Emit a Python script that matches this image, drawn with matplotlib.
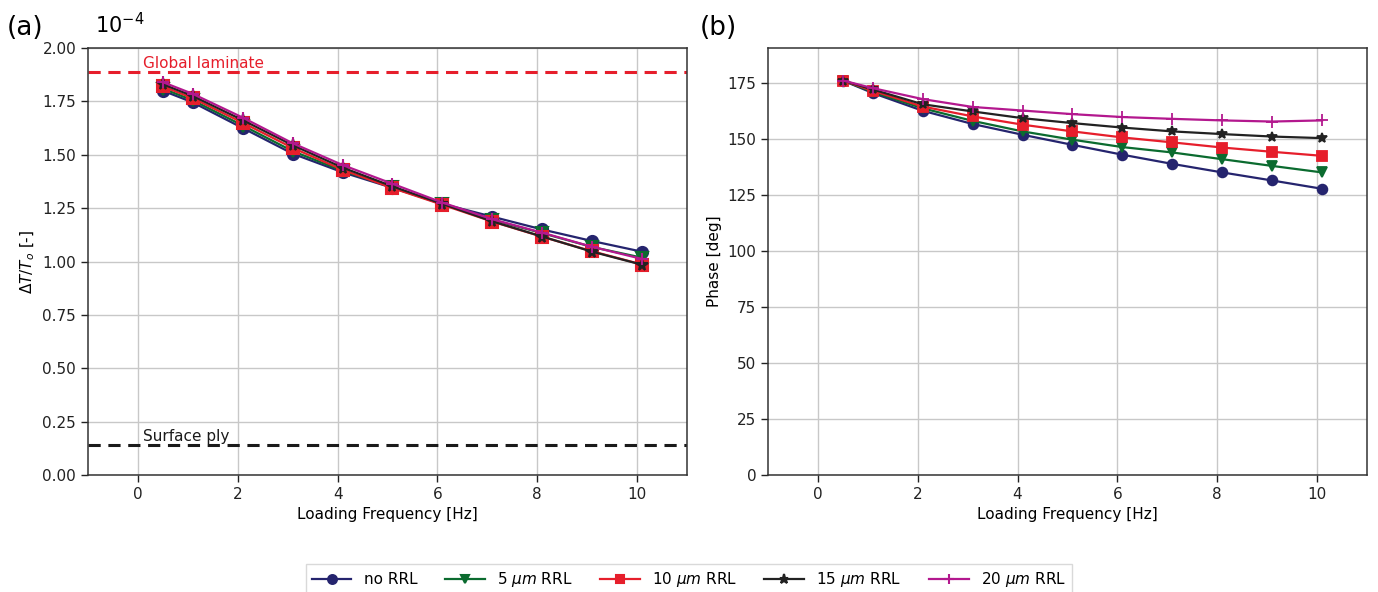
import matplotlib
matplotlib.use("Agg")
import matplotlib.pyplot as plt
import numpy as np

# loading frequency [Hz]
freq = [0.5, 1.1, 2.1, 3.1, 4.1, 5.1, 6.1, 7.1, 8.1, 9.1, 10.1]

# (a) dT/To, in units of 1e-4
dt_none = [1.80, 1.745, 1.625, 1.505, 1.418, 1.345, 1.270, 1.210, 1.150, 1.096, 1.046]
dt_5 = [1.81, 1.755, 1.637, 1.517, 1.425, 1.348, 1.268, 1.195, 1.133, 1.068, 1.018]
dt_10 = [1.82, 1.765, 1.650, 1.532, 1.430, 1.344, 1.266, 1.187, 1.116, 1.048, 0.986]
dt_15 = [1.83, 1.775, 1.662, 1.545, 1.440, 1.352, 1.270, 1.188, 1.117, 1.046, 0.985]
dt_20 = [1.84, 1.785, 1.674, 1.554, 1.452, 1.364, 1.276, 1.198, 1.135, 1.069, 1.012]

global_laminate = 1.888
surface_ply = 0.14

# (b) phase [deg]
ph_none = [176.0, 170.4, 162.5, 156.6, 151.8, 147.3, 142.9, 138.8, 135.0, 131.4, 127.7]
ph_5 = [176.0, 170.9, 163.6, 158.0, 153.3, 149.6, 146.3, 143.9, 140.9, 137.9, 135.0]
ph_10 = [176.0, 171.4, 164.4, 160.0, 156.3, 153.3, 150.6, 148.4, 146.1, 144.2, 142.4]
ph_15 = [176.0, 172.0, 165.4, 162.2, 159.2, 157.0, 155.0, 153.3, 152.1, 151.0, 150.3]
ph_20 = [176.0, 172.6, 167.7, 164.2, 162.6, 161.0, 159.7, 158.9, 158.2, 157.7, 158.2]

labels = ["no RRL", r"5 $\mu m$ RRL", r"10 $\mu m$ RRL", r"15 $\mu m$ RRL", r"20 $\mu m$ RRL"]
colors = ["#25246e", "#0b6b2f", "#e61e2b", "#222222", "#b3188e"]
markers = ["o", "v", "s", "*", "+"]

plt.rcParams["font.family"] = "DejaVu Sans"
plt.rcParams["font.size"] = 11

fig = plt.figure(figsize=(13.78, 5.92), dpi=100)
ax1 = fig.add_axes([0.0639, 0.1976, 0.4346, 0.7213])
ax2 = fig.add_axes([0.5573, 0.1976, 0.4347, 0.7213])

for ax in (ax1, ax2):
    ax.grid(True, color="#c8c8c8", linewidth=1.0)
    ax.set_axisbelow(True)
    for s in ax.spines.values():
        s.set_color("#333333")
        s.set_linewidth(1.1)
    ax.tick_params(direction="out", length=5, width=1, colors="#222222", labelsize=11)
    ax.set_xlim(-1, 11)
    ax.set_xticks([0, 2, 4, 6, 8, 10])
    ax.set_xlabel("Loading Frequency [Hz]", fontsize=11)

dts = [dt_none, dt_5, dt_10, dt_15, dt_20]
phs = [ph_none, ph_5, ph_10, ph_15, ph_20]
handles = []
for i in range(5):
    ms = 9 if markers[i] == "+" else (8.5 if markers[i] == "*" else 8)
    h, = ax1.plot(freq, dts[i], color=colors[i], marker=markers[i], markersize=ms,
                  linewidth=1.6, markeredgewidth=1.5)
    ax2.plot(freq, phs[i], color=colors[i], marker=markers[i], markersize=ms - 1,
             linewidth=1.6, markeredgewidth=1.3)
    handles.append(h)

ax1.axhline(global_laminate, color="#e61e2b", linestyle="--", linewidth=2.2, dashes=(4, 2.5))
ax1.axhline(surface_ply, color="#1a1a1a", linestyle="--", linewidth=2.2, dashes=(4, 2.5))
ax1.text(0.1, global_laminate + 0.006, "Global laminate", color="#e61e2b", fontsize=11, va="bottom")
ax1.text(0.1, surface_ply + 0.006, "Surface ply", color="#1a1a1a", fontsize=11, va="bottom")

ax1.set_ylim(0, 2.0)
ax1.set_yticks(np.arange(0, 2.01, 0.25))
ax1.yaxis.set_major_formatter(matplotlib.ticker.FormatStrFormatter("%.2f"))
ax1.set_ylabel(r"$\Delta T/T_o$ [-]", fontsize=11)

ax2.set_ylim(0, 190.5)
ax2.set_yticks(np.arange(0, 176, 25))
ax2.set_ylabel("Phase [deg]", fontsize=11)

fig.text(0.005, 0.952, "(a)", fontsize=19, va="center")
fig.text(0.069, 0.958, r"10$^{\mathregular{-4}}$", fontsize=15, va="center")
fig.text(0.508, 0.952, "(b)", fontsize=19, va="center")

leg = fig.legend(handles, labels, loc="lower center", ncol=5, bbox_to_anchor=(0.5, -0.018),
                 fontsize=11, frameon=True, fancybox=False, edgecolor="#d0d0d0",
                 handlelength=2.6, columnspacing=1.8, markerscale=0.8)

fig.savefig("out.png", dpi=100)
